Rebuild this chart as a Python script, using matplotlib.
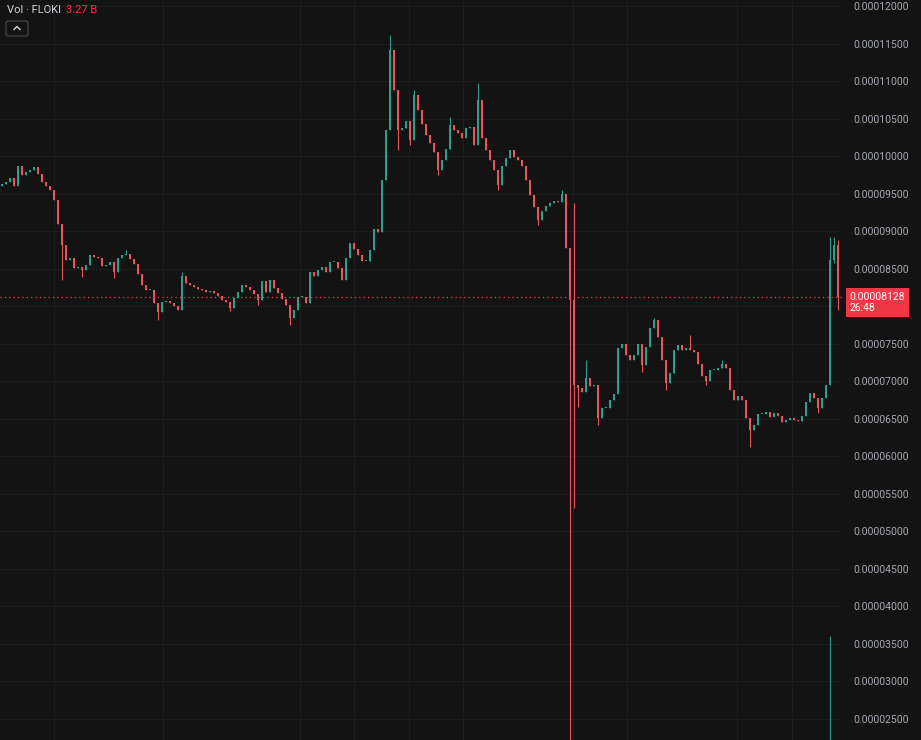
import numpy as np
import matplotlib
matplotlib.use('Agg')
import matplotlib.pyplot as plt
from matplotlib.patches import FancyBboxPatch
from matplotlib.lines import Line2D

# Candle closes, in units of 1e-8 (FLOKI price)
closes = [
    9629, 9656, 9709, 9603, 9869, 9749, 9789, 9816, 9856, 9762,
    9656, 9603, 9549, 9416, 9096, 8817, 8617, 8643, 8510, 8524,
    8484, 8550, 8683, 8657, 8643, 8537, 8550, 8590, 8457, 8643,
    8683, 8697, 8630, 8564, 8430, 8284, 8217, 8217, 8044, 7924,
    8057, 8071, 8044, 8004, 7951, 8404, 8310, 8284, 8257, 8231,
    8217, 8191, 8204, 8177, 8137, 8084, 8057, 7977, 8111, 8191,
    8284, 8257, 8217, 8164, 8084, 8337, 8191, 8350, 8244, 8177,
    8097, 8017, 7844, 7951, 8124, 8124, 8044, 8457, 8404, 8484,
    8524, 8457, 8590, 8590, 8510, 8350, 8643, 8843, 8763, 8683,
    8603, 8603, 8750, 9030, 8990, 9682, 10348, 11414, 10881, 10348,
    10375, 10468, 10215, 10815, 10615, 10428, 10282, 10175, 10055, 9816,
    9949, 10095, 10415, 10348, 10308, 10242, 10375, 10388, 10149, 10748,
    10242, 10082, 9949, 9816, 9616, 9869, 9975, 10082, 9989, 9949,
    9869, 9682, 9483, 9323, 9150, 9269, 9336, 9376, 9403, 9389,
    9496, 8777, 8084, 6952, 6912, 6859, 7045, 6938, 6952, 6512,
    6645, 6645, 6752, 6832, 7445, 7498, 7351, 7285, 7351, 7498,
    7218, 7458, 7711, 7818, 7591, 7285, 6978, 7112, 7418, 7485,
    7418, 7445, 7418, 7391, 7232, 7072, 7005, 7152, 7152, 7178,
    7232, 7178, 6885, 6752, 6805, 6752, 6512, 6352, 6419, 6566,
    6566, 6592, 6526, 6579, 6539, 6459, 6486, 6512, 6486, 6472,
    6539, 6725, 6845, 6779, 6645, 6779, 6952, 8617, 8817, 8128,
]
first_open = 9600

# Long wicks (candle index, high or low, units of 1e-8)
wick_high_idx = [31, 45, 97, 103, 112, 119, 140, 143, 146, 163, 172, 180, 207, 208, 209]
wick_high_val = [8750, 8457, 11614, 10881, 10522, 10974, 9549, 9376, 7285, 7844, 7618, 7285, 8923, 8923, 8883]
wick_low_idx = [15, 20, 28, 39, 57, 64, 72, 99, 102, 109, 124, 134, 142, 143, 144,
                149, 160, 166, 176, 187, 204, 208, 209]
wick_low_val = [8350, 8390, 8377, 7818, 7937, 8017, 7751, 10082, 10149, 9749, 9549, 9083, 2150, 5314, 6659,
                6419, 7125, 6885, 6952, 6126, 6579, 8580, 7951]

# Volume bar poking into the view
vol_idx = [207]
vol_top = [3609]

last_price = 8128
last_label = '0.00008128\n26:48'
vol_value = '3.27 B'

# Time grid lines (candle index)
time_grid = [13, 40.25, 74.5, 88, 101.75, 115.25, 142.75, 156.25, 183.75, 197.5]

UNIT = 1e-8
UP = '#2f9e8a'
DOWN = '#e9545e'
BG = '#131313'

# Build OHLC
closes = np.array(closes, dtype=float)
opens = np.concatenate([[first_open], closes[:-1]])
highs = np.maximum(opens, closes)
lows = np.minimum(opens, closes)
for i, v in zip(wick_high_idx, wick_high_val):
    highs[i] = max(highs[i], v)
for i, v in zip(wick_low_idx, wick_low_val):
    lows[i] = min(lows[i], v)
idx = np.arange(len(closes))
up = closes >= opens
colors = np.where(up, UP, DOWN)

fig = plt.figure(figsize=(9.21, 7.40), dpi=100, facecolor=BG)
ax = fig.add_axes([0, 0, 842 / 921, 1])
ax.set_facecolor(BG)

# Grid
yticks = np.arange(25, 121, 5) * 1e-6
for yv in yticks:
    ax.axhline(yv, color='#1d1d1d', lw=0.8, zorder=0)
for xv in time_grid:
    ax.axvline(xv, color='#1d1d1d', lw=0.8, zorder=0)

# Candles
ax.vlines(idx, lows * UNIT, highs * UNIT, colors=colors, lw=0.8, zorder=2)
body_h = np.maximum(np.abs(closes - opens), 10) * UNIT
ax.bar(idx, body_h, bottom=np.minimum(opens, closes) * UNIT, width=0.42,
       color=colors, edgecolor='none', zorder=3)

# Volume spike
ax.vlines(vol_idx, 0, np.array(vol_top) * UNIT, colors='#2a8f80', lw=0.9, zorder=1)

# Last price line
ax.axhline(last_price * UNIT, color='#f23645', lw=0.9, linestyle=(0, (1, 2.5)), zorder=4)

ax.set_xlim(-0.5, 210)
ax.set_ylim(0.0000222, 0.0001208)
for s in ax.spines.values():
    s.set_visible(False)
ax.yaxis.tick_right()
ax.set_yticks(yticks)
# the 0.00008000 label sits under the last-price tag
ax.set_yticklabels(['' if abs(v - 8e-5) < 1e-9 else '%.8f' % v for v in yticks])
ax.tick_params(axis='y', length=0, pad=8, labelsize=7.5, labelcolor='#a6a9b1')
for t in ax.get_yticklabels():
    t.set_fontfamily('Roboto')
ax.set_xticks([])

# Last price label
fig.text(849.5 / 921, 1 - 302.5 / 740, last_label, ha='left', va='center',
         fontsize=7.5, family='Roboto', color='white', linespacing=1.1,
         bbox=dict(boxstyle='square,pad=0.35', fc='#f23645', ec='none'))

# Legend text at top-left
fig.text(7 / 921, 1 - 10 / 740, 'Vol · FLOKI', ha='left', va='center',
         fontsize=8, family='Roboto', color='#d1d4dc')
fig.text(66 / 921, 1 - 10 / 740, vol_value, ha='left', va='center',
         fontsize=8, family='Roboto', color='#f23645')

# Collapse button
btn = FancyBboxPatch((6 / 921, 1 - 36 / 740), 22 / 921, 15 / 740,
                     boxstyle='round,pad=0,rounding_size=0.003',
                     transform=fig.transFigure, fc='none', ec='#4a4a4a', lw=0.8)
fig.patches.append(btn)
fig.lines.append(Line2D([14 / 921, 17 / 921, 20 / 921],
                        [1 - 29.5 / 740, 1 - 26.5 / 740, 1 - 29.5 / 740],
                        transform=fig.transFigure, color='#d1d4dc', lw=1.0))

fig.savefig('out.png', dpi=100, facecolor=BG)
plt.close(fig)
